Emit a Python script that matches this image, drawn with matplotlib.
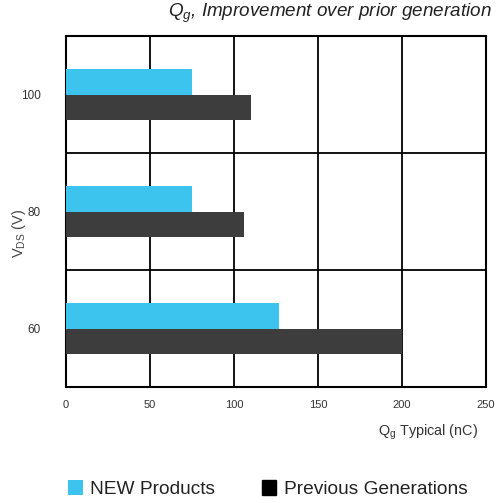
import matplotlib
matplotlib.use("Agg")
import matplotlib.pyplot as plt
import numpy as np

# voltage classes (bottom to top) and gate charge values
vds_labels = ["60", "80", "100"]
new_products = [127, 75, 75]
previous_generations = [200, 106, 110]
x_ticks = [0, 50, 100, 150, 200, 250]

plt.rcParams['font.family'] = ['Liberation Sans', 'DejaVu Sans']
plt.rcParams['mathtext.fontset'] = 'custom'
plt.rcParams['mathtext.rm'] = 'Liberation Sans'
plt.rcParams['mathtext.it'] = 'Liberation Sans:italic'

cyan = '#3cc4ee'
dark = '#3d3d3d'
txt = '#333333'

fig = plt.figure(figsize=(5.0, 5.03), dpi=100)
ax = fig.add_axes([0.132, 0.2306, 0.84, 0.6978])

y = np.arange(len(vds_labels))
h = 0.215
b1 = ax.barh(y + h / 2, new_products, height=h, color=cyan, label='NEW Products', zorder=3)
b2 = ax.barh(y - h / 2, previous_generations, height=h, color=dark, label='Previous Generations', zorder=3)

ax.set_xlim(0, 250)
ax.set_ylim(-0.5, 2.5)
ax.set_xticks(x_ticks)
ax.set_yticks(y)
ax.set_yticklabels(vds_labels)
ax.set_yticks([0.5, 1.5], minor=True)
ax.tick_params(axis='both', which='both', length=0, labelsize=8, colors=txt)
ax.tick_params(axis='x', pad=9)
ax.tick_params(axis='y', pad=18, labelsize=8.5)
ax.grid(True, axis='x', color='black', linewidth=1.3, zorder=1)
ax.grid(True, axis='y', which='minor', color='black', linewidth=1.3, zorder=1)
for s in ax.spines.values():
    s.set_linewidth(1.5)
    s.set_color('black')
ax.set_axisbelow(True)

fig.text(0.984, 0.973, r'$Q_g$, Improvement over prior generation', ha='right', va='center',
         fontsize=13.6, style='italic', color='#222222')
fig.text(0.956, 0.141, r'Q$_\mathrm{g}$ Typical (nC)', ha='right', va='center', fontsize=10.4, color=txt)
fig.text(0.038, 0.535, r'$\mathrm{V_{DS}}$ (V)', ha='center', va='center', rotation=90, fontsize=10.5, color='#444444')

leg = fig.legend(handles=[b1, b2], loc='center left', bbox_to_anchor=(0.121, 0.028), ncol=2,
                 frameon=False, fontsize=13.8, handlelength=0.75, handleheight=0.8,
                 handletextpad=0.4, columnspacing=2.43, borderaxespad=0)
leg.legend_handles[1].set_color('black')
for t in leg.get_texts():
    t.set_color('#222222')

fig.savefig('out.png', dpi=100)
